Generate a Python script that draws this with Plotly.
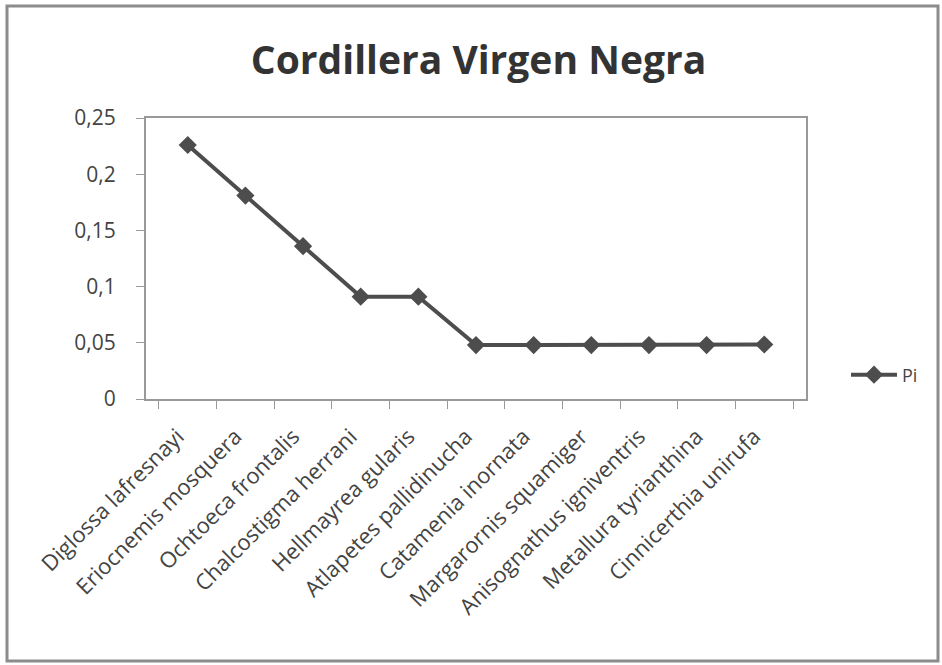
import plotly.graph_objects as go

categories = ["Diglossa lafresnayi", "Eriocnemis mosquera", "Ochtoeca frontalis",
              "Chalcostigma herrani", "Hellmayrea gularis", "Atlapetes pallidinucha",
              "Catamenia inornata", "Margarornis squamiger", "Anisognathus igniventris",
              "Metallura tyrianthina", "Cinnicerthia unirufa"]
pi_values = [0.226, 0.181, 0.136, 0.091, 0.091, 0.048, 0.048, 0.048, 0.048, 0.048, 0.0485]
y_ticks = [0, 0.05, 0.1, 0.15, 0.2, 0.25]
y_tick_labels = ["0", "0,05", "0,1", "0,15", "0,2", "0,25"]

FONT = "Open Sans"
L, R, T, B = 146, 136, 118, 266
W, H = 942, 665

fig = go.Figure()
fig.add_trace(go.Scatter(
    x=categories, y=pi_values, mode="lines+markers", name="Pi",
    line=dict(color="#4d4d4d", width=4),
    marker=dict(symbol="diamond", size=14, color="#4d4d4d"),
))

def px_to_paper_x(px):
    return (px - L) / (W - L - R)

def px_to_paper_y(py):
    return (H - B - py) / (H - T - B)

fig.update_layout(
    width=W, height=H,
    margin=dict(l=L, r=R, t=T, b=B),
    paper_bgcolor="white", plot_bgcolor="white",
    title=dict(text="<b>Cordillera Virgen Negra</b>", x=0.508, xanchor="center",
               y=1 - 60 / H, yanchor="middle",
               font=dict(family=FONT, size=39, color="#333333")),
    font=dict(family=FONT, size=20, color="#444444"),
    showlegend=True,
    legend=dict(x=px_to_paper_x(846), y=px_to_paper_y(375), xanchor="left", yanchor="middle",
                font=dict(size=18, color="#444444"), bgcolor="rgba(0,0,0,0)",
                itemwidth=46),
    xaxis=dict(type="category", tickson="boundaries", ticks="outside", ticklen=8,
               tickcolor="#999999", tickangle=-45, showgrid=False,
               showline=True, linecolor="#999999", linewidth=2, mirror=True,
               ticklabelstandoff=14, ticklabelshift=-10,
               tickfont=dict(family=FONT, size=22, color="#444444")),
    yaxis=dict(range=[0, 0.25], tickvals=y_ticks, ticktext=y_tick_labels,
               ticks="outside", ticklen=8, tickcolor="#999999", showgrid=False,
               showline=True, linecolor="#999999", linewidth=2, mirror=True,
               zeroline=False, ticklabelstandoff=16,
               tickfont=dict(family=FONT, size=21, color="#444444")),
    shapes=[dict(type="rect", xref="paper", yref="paper",
                 x0=px_to_paper_x(7), x1=px_to_paper_x(938),
                 y0=px_to_paper_y(661), y1=px_to_paper_y(6),
                 line=dict(color="#8c8c8c", width=3), fillcolor="rgba(0,0,0,0)", layer="below")],
)

fig.write_html("out.html", config={"displayModeBar": False},
               post_script="document.body.style.margin='0';")
